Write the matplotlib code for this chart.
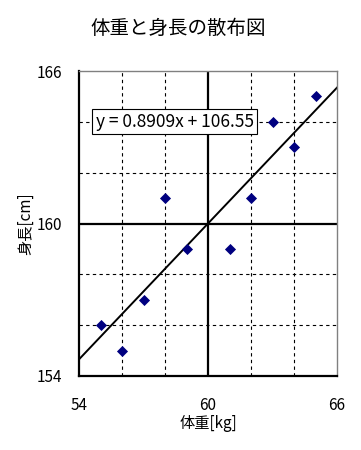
import matplotlib
matplotlib.use("Agg")
import matplotlib.pyplot as plt
import numpy as np

plt.rcParams['font.family'] = ['Noto Sans CJK JP', 'DejaVu Sans']

weight = [55, 56, 57, 58, 59, 61, 62, 63, 64, 65]
height = [156, 155, 157, 161, 159, 159, 161, 164, 163, 165]
x_ticks = [54, 60, 66]
y_ticks = [154, 160, 166]
title = "体重と身長の散布図"
xlabel = "体重[kg]"
ylabel = "身長[cm]"

W, H = 361, 450
fig = plt.figure(figsize=(W / 100, H / 100), dpi=100)
ax = fig.add_axes([79 / W, 1 - 376 / H, (337 - 79) / W, (376 - 71) / H])

ax.set_xlim(54, 66)
ax.set_ylim(154, 166)

# minor dashed grid
for v in [56, 58, 62, 64]:
    ax.axvline(v, color='black', lw=0.8, ls=(0, (3, 3)), zorder=1)
for v in [156, 158, 162, 164]:
    ax.axhline(v, color='black', lw=0.8, ls=(0, (3, 3)), zorder=1)
# major solid grid
ax.axvline(60, color='black', lw=1.6, zorder=1)
ax.axhline(160, color='black', lw=1.6, zorder=1)

# trendline
slope, intercept = np.polyfit(weight, height, 1)
xs = np.array([54, 66])
ax.plot(xs, slope * xs + intercept, color='black', lw=1.4, zorder=2)

ax.scatter(weight, height, marker='D', s=32, color='#000080', zorder=3, linewidths=0)

ax.text(54.78, 164, f"y = {slope:.4f}x + {intercept:.2f}", fontsize=12.5, va='center', ha='left',
        bbox=dict(boxstyle='square,pad=0.2', fc='white', ec='black', lw=0.8), zorder=4)

ax.set_xticks(x_ticks)
ax.set_yticks(y_ticks)
ax.tick_params(length=0, labelsize=11, pad=15)
ax.tick_params(axis='y', pad=12)

for s in ['left', 'bottom']:
    ax.spines[s].set_linewidth(1.6)
    ax.spines[s].set_color('black')
for s in ['top', 'right']:
    ax.spines[s].set_linewidth(1.0)
    ax.spines[s].set_color('#808080')

ax.set_xlabel(xlabel, fontsize=11, labelpad=1)
ax.set_ylabel(ylabel, fontsize=11, labelpad=2)
fig.text(178 / W, 1 - 28 / H, title, fontsize=14, ha='center', va='center')

fig.savefig("out.png", dpi=100)
